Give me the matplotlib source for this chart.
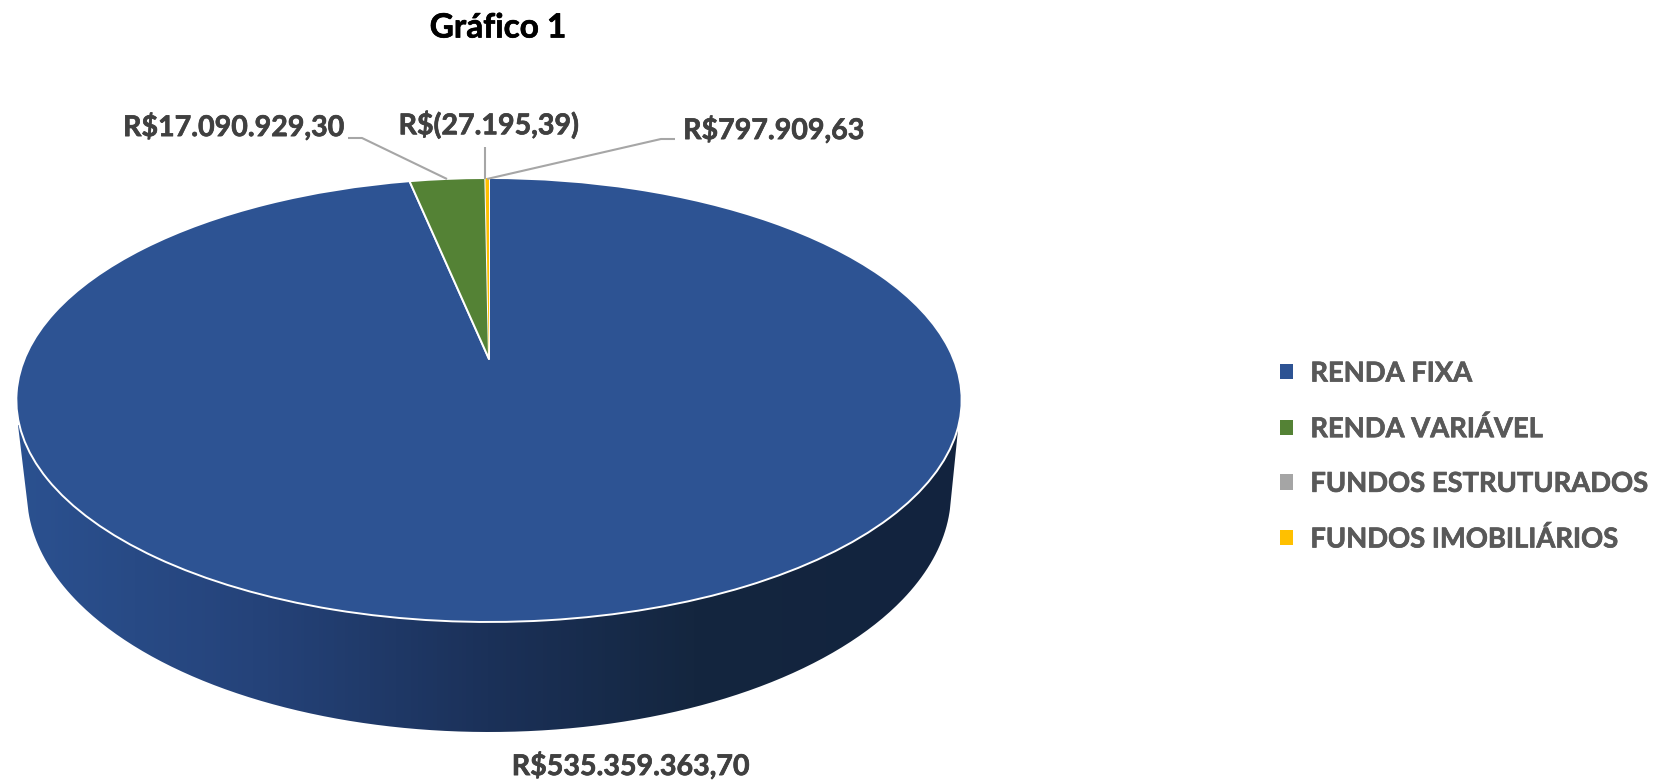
import numpy as np
import matplotlib
matplotlib.use("Agg")
import matplotlib.pyplot as plt
import matplotlib.patheffects as pe
from matplotlib.transforms import Transform
from matplotlib.path import Path
from matplotlib.patches import Patch, PathPatch
from matplotlib.colors import LinearSegmentedColormap

plt.rcParams['font.family'] = ['Lato', 'DejaVu Sans']

title = "Gráfico 1"
categories = ["RENDA FIXA", "RENDA VARIÁVEL", "FUNDOS ESTRUTURADOS", "FUNDOS IMOBILIÁRIOS"]
values = [535359363.70, 17090929.30, -27195.39, 797909.63]
value_labels = ["R$535.359.363,70", "R$17.090.929,30", "R$(27.195,39)", "R$797.909,63"]
colors = ["#2D5393", "#548235", "#A5A5A5", "#FFC000"]

# perspective of the disc, in pixels of the picture
APEX = (489.0, 359.0)
KP, AP, BP = 0.1847, 464.5, 214.4


class DiscPerspective(Transform):
    input_dims = output_dims = 2
    is_separable = False

    def transform_non_affine(self, xy):
        xy = np.asarray(xy, float)
        d = 1 + KP * xy[:, 1]
        return np.column_stack([APEX[0] + AP * xy[:, 0] / d, APEX[1] - BP * xy[:, 1] / d])

    def transform_path_non_affine(self, path):
        p = path.interpolated(1) if path.codes is None else path
        return Path(self.transform_non_affine(p.vertices), p.codes)


fig = plt.figure(figsize=(16.73, 7.80), dpi=100)
ax = fig.add_axes([0, 0, 1, 1])

wedges, _ = ax.pie(np.abs(values), startangle=90, counterclock=False, colors=colors,
                   wedgeprops=dict(edgecolor="white", linewidth=1.4, joinstyle="round"))
for w in wedges:
    w.set_transform(DiscPerspective() + ax.transData)
    w.set_zorder(3)
wedges[2].set_linewidth(0)
wedges[3].set_linewidth(0)
wedges[2].set_edgecolor("none")
wedges[3].set_edgecolor("none")

ax.set_aspect("auto")
ax.axis("off")

# side wall of the cylinder with its horizontal shading
phi = np.radians(np.linspace(4, 176, 300))
low_x = 489 - 462 * np.cos(phi)
low_y = 493 + 239 * np.sin(phi)
wall_x = np.r_[18, low_x, 958]
wall_y = np.r_[425, low_y, 430]
wall = PathPatch(Path(np.column_stack([wall_x, wall_y]), closed=False), transform=ax.transData,
                 facecolor="none", edgecolor="none")
ax.add_patch(wall)
cmap = LinearSegmentedColormap.from_list(
    "wall", [(0.0, "#2B5190"), (0.25, "#25437A"), (0.5, "#1B3159"), (0.72, "#14263F"), (1.0, "#12233E")])
img = ax.imshow(np.linspace(0, 1, 256)[None, :], cmap=cmap, extent=(18, 958, 780, 0),
                aspect="auto", zorder=2)
img.set_clip_path(wall)
ax.set_xlim(0, 1673)
ax.set_ylim(780, 0)

heavy = [pe.withStroke(linewidth=0.5, foreground="#404040")]

# data labels
lab_kw = dict(color="#404040", fontweight="bold", fontsize=20.6, va="center", zorder=5, path_effects=heavy)
ax.text(631, 766, value_labels[0], ha="center", **lab_kw)
ax.text(234, 127, value_labels[1], ha="center", **lab_kw)
ax.text(489, 125, value_labels[2], ha="center", **lab_kw)
ax.text(774, 130, value_labels[3], ha="center", **lab_kw)

# leader lines
line_kw = dict(color="#A6A6A6", lw=1.5, zorder=4, solid_capstyle="butt")
ax.plot([348, 362, 447], [138, 138, 179], **line_kw)
ax.plot([485, 485], [147, 179], **line_kw)
ax.plot([487, 661, 675], [179, 139, 139], **line_kw)

ax.text(498, 28, title, ha="center", va="center", color="black", fontweight="bold", fontsize=24,
        path_effects=[pe.withStroke(linewidth=0.5, foreground="black")])

handles = [Patch(facecolor=c, edgecolor="none") for c in colors]
leg = ax.legend(handles, categories, loc="center left", bbox_to_anchor=(1280 / 1673, 1 - 456.5 / 780),
                frameon=False, borderpad=0, borderaxespad=0, handlelength=0.48, handleheight=0.48,
                handletextpad=0.63, labelspacing=1.12, labelcolor="#595959",
                prop=dict(family="Lato", weight="bold", size=19.7))
for t in leg.get_texts():
    t.set_path_effects([pe.withStroke(linewidth=0.5, foreground="#595959")])

fig.savefig("out.png", dpi=100)
